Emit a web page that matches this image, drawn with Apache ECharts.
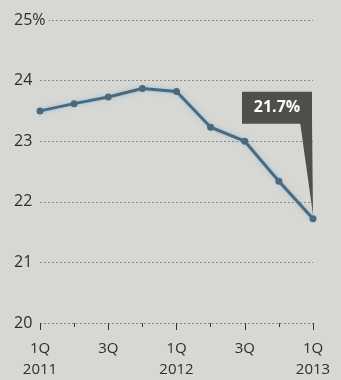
<!DOCTYPE html>
<html>
<head>
<meta charset="utf-8">
<style>
  html, body { margin: 0; padding: 0; background: #d7d7d4; }
  #chart { width: 341px; height: 380px; }
</style>
<script src="https://cdn.jsdelivr.net/npm/echarts@6/dist/echarts.min.js"></script>
</head>
<body>
<div id="chart"></div>
<script>
var quarters = ['1Q\n2011', '2Q', '3Q', '4Q', '1Q\n2012', '2Q', '3Q', '4Q', '1Q\n2013']
var share = [23.5, 23.62, 23.73, 23.87, 23.82, 23.23, 23.0, 22.34, 21.72]
var yMin = 20
var yMax = 25
var calloutText = '21.7%'

var bg = '#d7d7d4'
var chart = echarts.init(document.getElementById('chart'))

var option = {
  backgroundColor: bg,
  animation: false,
  grid: { left: 40, right: 28, top: 20, bottom: 50 },
  xAxis: [
    {
      type: 'category',
      data: quarters,
      boundaryGap: false,
      axisLine: { show: false },
      axisTick: { show: true, interval: 0, length: 4, lineStyle: { color: '#333', width: 1 } },
      axisLabel: {
        interval: 1,
        margin: 15,
        color: '#2e2e2e',
        fontFamily: 'Open Sans',
        fontSize: 15,
        lineHeight: 21
      }
    },
    {
      type: 'category',
      data: quarters,
      boundaryGap: false,
      position: 'bottom',
      axisLine: { show: false },
      axisTick: { show: true, interval: 1, length: 7, lineStyle: { color: '#333', width: 1 } },
      axisLabel: { show: false }
    }
  ],
  yAxis: {
    type: 'value',
    min: yMin,
    max: yMax,
    interval: 1,
    axisLine: { show: false },
    axisTick: { show: false },
    splitLine: { lineStyle: { color: '#8c8c8a', type: [2, 2], width: 1 } },
    axisLabel: {
      align: 'left',
      margin: 26,
      color: '#2e2e2e',
      fontFamily: 'Open Sans',
      fontSize: 16,
      backgroundColor: bg,
      padding: [0, 3, 0, 0],
      formatter: function (v) { return v === yMax ? v + '%' : String(v) }
    }
  },
  series: [
    {
      type: 'line',
      data: share,
      symbol: 'circle',
      symbolSize: 7,
      lineStyle: { color: '#4b6a7e', width: 3, shadowColor: 'rgba(120,180,220,0.7)', shadowBlur: 4 },
      itemStyle: { color: '#4b6a7e' },
      z: 5
    }
  ]
}
chart.setOption(option)

// callout box pointing at the last point
var last = share.length - 1
var p = chart.convertToPixel({ xAxisIndex: 0, yAxisIndex: 0 }, [last, share[last]])
var boxW = 70
var boxH = 32
var boxRight = p[0] - 1
var boxBottom = p[1] - 95
chart.setOption({
  graphic: [
    {
      type: 'polygon',
      shape: { points: [[boxRight - 12, boxBottom - 2], [boxRight, boxBottom - 2], [p[0], p[1] - 4]] },
      style: { fill: '#4e5049' },
      z: 10
    },
    {
      type: 'rect',
      shape: { x: boxRight - boxW, y: boxBottom - boxH, width: boxW, height: boxH },
      style: { fill: '#4e5049' },
      z: 10
    },
    {
      type: 'text',
      x: boxRight - boxW / 2,
      y: boxBottom - boxH / 2,
      style: {
        text: calloutText,
        fill: '#fff',
        font: 'bold 16px "Open Sans"',
        align: 'center',
        verticalAlign: 'middle'
      },
      z: 11
    }
  ]
})

window.addEventListener('resize', function () {
  chart.resize()
})
</script>
</body>
</html>
